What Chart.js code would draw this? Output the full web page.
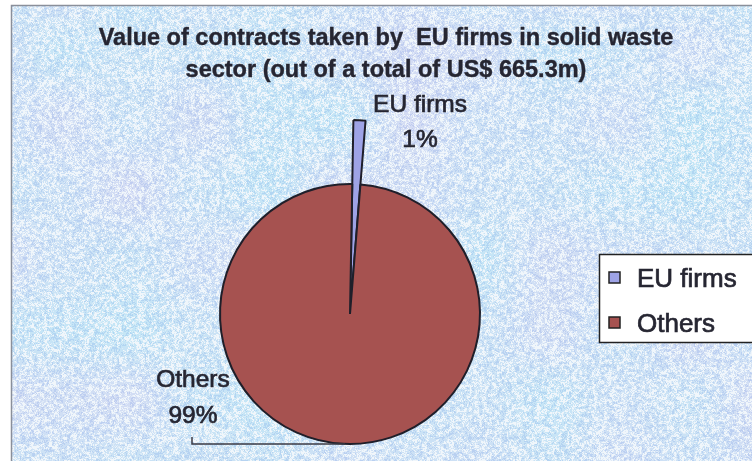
<!DOCTYPE html>
<html>
<head>
<meta charset="utf-8">
<script src="https://cdn.jsdelivr.net/npm/chart.js@4.4.0/dist/chart.umd.min.js"></script>
<style>
  html, body { margin: 0; padding: 0; background: #fff; }
  canvas { display: block; }
</style>
</head>
<body>
<canvas id="wasteChart" width="752" height="461"></canvas>
<script>
// Chart data
const titleLines = ['Value of contracts taken by  EU firms in solid waste', 'sector (out of a total of US$ 665.3m)'];
const categories = ['EU firms', 'Others'];
const shares = [1, 99]; // percent of US$ 665.3m
const sliceColors = ['#9ea3e6', '#a65250'];

const FONT = "'Liberation Sans', Arial, sans-serif";
const INK = '#262632';

// Granite-style background texture (deterministic hash noise)
function hash(x, y) {
  let h = (x * 374761393 + y * 668265263) | 0;
  h = Math.imul(h ^ (h >>> 13), 1274126177);
  return ((h ^ (h >>> 16)) >>> 0) / 4294967296;
}
function valueNoise(x, y, cell) {
  const gx = Math.floor(x / cell), gy = Math.floor(y / cell);
  const fx = x / cell - gx, fy = y / cell - gy;
  const sx = fx * fx * (3 - 2 * fx), sy = fy * fy * (3 - 2 * fy);
  const a = hash(gx, gy), b = hash(gx + 1, gy), c = hash(gx, gy + 1), d = hash(gx + 1, gy + 1);
  return (a + (b - a) * sx) + ((c + (d - c) * sx) - (a + (b - a) * sx)) * sy;
}
function makeTexture(w, h) {
  const cv = document.createElement('canvas');
  cv.width = w; cv.height = h;
  const c = cv.getContext('2d');
  const img = c.createImageData(w, h);
  for (let y = 0; y < h; y++) {
    for (let x = 0; x < w; x++) {
      const big = valueNoise(x + 500, y + 300, 70);
      let r = 196 + 16 * big, g = 230 - 10 * big, b = 246 - 2 * big;
      const grain = 0.55 * valueNoise(x, y, 2.5) + 0.45 * hash(x + 7, y + 13);
      if (grain > 0.63) { r = 240; g = 246; b = 251; }
      else if (grain > 0.55) { r = (r + 240) / 2; g = (g + 246) / 2; b = (b + 251) / 2; }
      else if (grain < 0.3) { r -= 20; g -= 16; b -= 4; }
      const i = (y * w + x) * 4;
      img.data[i] = r; img.data[i + 1] = g; img.data[i + 2] = b; img.data[i + 3] = 255;
    }
  }
  c.putImageData(img, 0, 0);
  return cv;
}
const texture = makeTexture(752, 461);

const backdrop = {
  id: 'backdrop',
  beforeDraw(chart) {
    const ctx = chart.ctx;
    ctx.save();
    ctx.fillStyle = '#fff';
    ctx.fillRect(0, 0, chart.width, chart.height);
    ctx.drawImage(texture, 11, 5, chart.width - 11, chart.height - 5, 11, 5, chart.width - 11, chart.height - 5);
    ctx.strokeStyle = '#8a8f9a';
    ctx.lineWidth = 1.5;
    ctx.beginPath();
    ctx.moveTo(11.5, chart.height);
    ctx.lineTo(11.5, 5.5);
    ctx.lineTo(chart.width, 5.5);
    ctx.stroke();
    ctx.restore();
  }
};

// EU slice sticks out beyond the rest of the pie
const longSlice = {
  id: 'longSlice',
  beforeDatasetsDraw(chart) {
    const arc = chart.getDatasetMeta(0).data[0];
    arc.outerRadius = 194;
  }
};

function heavyText(ctx, text, x, y) {
  ctx.fillText(text, x, y);
  ctx.strokeText(text, x, y);
}

const annotations = {
  id: 'annotations',
  afterDraw(chart) {
    const ctx = chart.ctx;
    const arcs = chart.getDatasetMeta(0).data;
    const cx = arcs[0].x, cy = arcs[0].y;
    const total = shares.reduce((a, b) => a + b, 0);
    const pct = shares.map(v => Math.round(v / total * 100) + '%');
    ctx.save();

    // title
    ctx.fillStyle = INK;
    ctx.strokeStyle = INK;
    ctx.lineWidth = 0.4;
    ctx.textAlign = 'center';
    ctx.textBaseline = 'alphabetic';
    ctx.font = 'bold 23.5px ' + FONT;
    heavyText(ctx, titleLines[0], 386, 45);
    heavyText(ctx, titleLines[1], 386, 77);

    // slice labels
    ctx.lineWidth = 0.7;
    ctx.font = '24.5px ' + FONT;
    heavyText(ctx, categories[0], cx + 70, cy - 202);
    heavyText(ctx, pct[0], cx + 70, cy - 167);
    heavyText(ctx, categories[1], cx - 157, cy + 73);
    heavyText(ctx, pct[1], cx - 157, cy + 109);

    // leader line for Others
    ctx.strokeStyle = '#3a3a44';
    ctx.lineWidth = 1.5;
    ctx.beginPath();
    ctx.moveTo(cx - 158, cy + 123);
    ctx.lineTo(cx - 158, cy + 130);
    ctx.lineTo(cx - 5, cy + 130);
    ctx.stroke();

    // legend
    ctx.fillStyle = '#fff';
    ctx.fillRect(599, 254, 170, 89);
    ctx.strokeStyle = '#222';
    ctx.lineWidth = 1.5;
    ctx.strokeRect(599.5, 254.5, 170, 88);
    ctx.textAlign = 'left';
    ctx.font = '26px ' + FONT;
    categories.forEach((name, i) => {
      const y = 272 + i * 45;
      ctx.fillStyle = sliceColors[i];
      ctx.fillRect(609, y, 11, 11);
      ctx.strokeStyle = '#222';
      ctx.lineWidth = 1.5;
      ctx.strokeRect(609, y, 11, 11);
      ctx.fillStyle = INK;
      ctx.strokeStyle = INK;
      ctx.lineWidth = 0.7;
      heavyText(ctx, name, 637, 287 + i * 45);
    });
    ctx.restore();
  }
};

const ctx = document.getElementById('wasteChart').getContext('2d');
const wasteChart = new Chart(ctx, {
  type: 'pie',
  data: {
    labels: categories,
    datasets: [{
      data: shares,
      backgroundColor: sliceColors,
      borderColor: '#1f1f2a',
      borderWidth: 2,
      clip: false
    }]
  },
  options: {
    responsive: false,
    animation: false,
    rotation: 1,
    radius: 130,
    layout: { padding: { left: 0, right: 52, top: 167, bottom: 0 } },
    plugins: {
      legend: { display: false },
      title: { display: false },
      tooltip: { enabled: false }
    }
  },
  plugins: [backdrop, longSlice, annotations]
});
</script>
</body>
</html>
